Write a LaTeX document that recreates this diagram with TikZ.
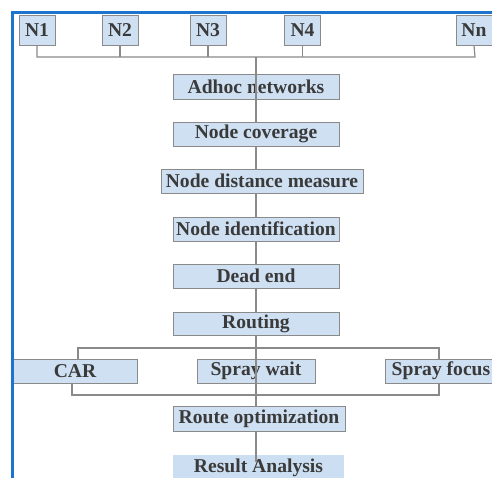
\documentclass[tikz,border=0pt]{standalone}
\usepackage{fontspec}
\setmainfont{Liberation Serif}
\usetikzlibrary{backgrounds}
\definecolor{boxblue}{HTML}{CFE0F2}
\definecolor{boxblue2}{HTML}{CCDEF1}
\definecolor{framblue}{HTML}{1C74CC}
\definecolor{linegray}{HTML}{8A8A8A}
\definecolor{txtgray}{HTML}{3A3A3A}
\tikzset{
  stagebox/.style={draw=linegray, fill=boxblue, line width=1pt, inner sep=0pt,
    text=txtgray, font=\bfseries\fontsize{19.6}{20}\selectfont},
  conn/.style={draw=linegray, line width=1.2pt},
}
\begin{document}
\begin{tikzpicture}[x=1pt,y=-1pt]
\useasboundingbox (0,0) rectangle (492,477);
\clip (0,0) rectangle (492,477);
% top nodes
\node[stagebox, minimum width=36pt, minimum height=30pt] (n1) at (37,30) {N1};
\node[stagebox, minimum width=36pt, minimum height=30pt] (n2) at (120,30) {N2};
\node[stagebox, minimum width=36pt, minimum height=30pt] (n3) at (208,30) {N3};
\node[stagebox, minimum width=36pt, minimum height=30pt] (n4) at (302.5,30) {N4};
\node[stagebox, minimum width=36pt, minimum height=30pt] (nn) at (474,30) {Nn};
% chain
\node[stagebox, minimum width=166pt, minimum height=25pt] (adhoc) at (256,86.5) {Adhoc networks};
\node[stagebox, minimum width=166pt, minimum height=24pt] (cov) at (256,134) {Node coverage};
\node[stagebox, minimum width=202pt, minimum height=24pt] (dist) at (262,181) {Node distance measure};
\node[stagebox, minimum width=166pt, minimum height=24pt] (ident) at (256,229) {Node identification};
\node[stagebox, minimum width=166pt, minimum height=24pt] (dead) at (256,276) {Dead end};
\node[stagebox, minimum width=166pt, minimum height=23pt] (rout) at (256,323.5) {Routing};
\node[stagebox, minimum width=124pt, minimum height=24pt] (car) at (75,371) {CAR};
\node[stagebox, minimum width=118pt, minimum height=24pt] (sw) at (256,371) {Spray wait};
\node[stagebox, minimum width=124pt, minimum height=24pt] (sf) at (447,371) {\hspace*{-12pt}Spray focus};
\node[stagebox, minimum width=172pt, minimum height=25pt] (ropt) at (259,418.5) {Route optimization};
\node[stagebox, draw=none, fill=boxblue2, minimum width=171pt, minimum height=26pt, anchor=north] (res) at (258.5,454) {Result Analysis};
% coordinates
\coordinate (busL) at (37,57);
\coordinate (busR) at (475,57);
\coordinate (busC) at (256,57);
\coordinate (brT) at (256,348);
\coordinate (brB) at (256,395);
\coordinate (resend) at (256,462);
\begin{scope}[on background layer]
\fill[white] (0,0) rectangle (492,477);
\draw[conn] (n1.south) |- (busR) -- (nn.south);
\draw[conn] (n2.south) -- (n2.south |- busL);
\draw[conn] (n3.south) -- (n3.south |- busL);
\draw[conn] (n4.south) -- (n4.south |- busL);
\draw[conn] (cov.south) -- (ident.north);
\draw[conn] (ident.south) -- (dead.north);
\draw[conn] (dead.south) -- (rout.north);
\draw[conn] (rout.south) -- (brT);
\draw[conn] (car.north -| 78,0) |- (brT) -| (sf.north -| 439,0);
\draw[conn] (car.south -| 72,0) |- (brB) -| (sf.south -| 439,0);
\end{scope}
% lines visible over boxes
\draw[conn] (busC) -- (cov.north);
\draw[conn] (brT) -- (brB) -- (brB |- ropt.north);
\draw[conn] (resend |- ropt.south) -- (resend);
% frame
\draw[framblue, line width=3pt] (12.5,480) -- (12.5,12.5) -- (495,12.5);
\end{tikzpicture}
\end{document}
